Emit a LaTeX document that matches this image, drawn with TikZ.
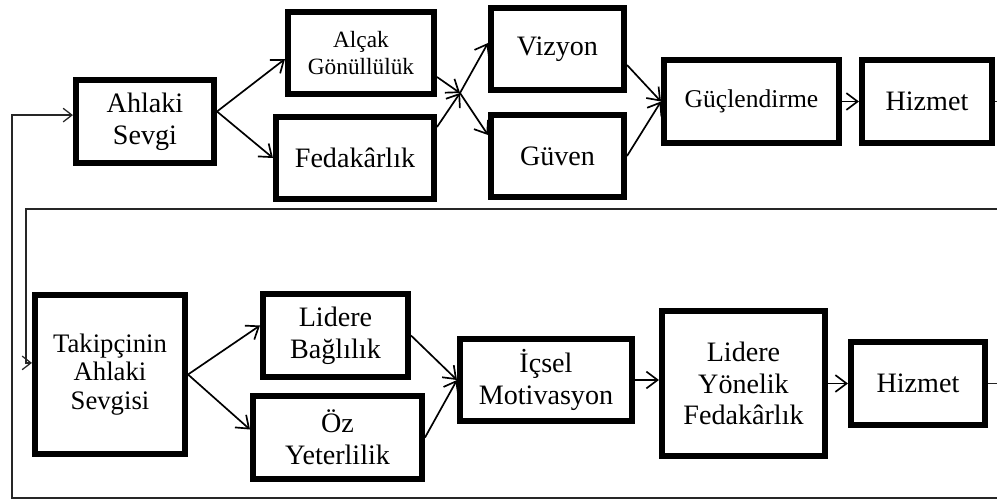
\documentclass[tikz,border=0pt]{standalone}
\usepackage{fontspec}
\setmainfont{Liberation Serif}
\usepackage{tikz}
\usetikzlibrary{shapes.geometric, arrows.meta}
\newcommand{\bigfs}{\fontsize{20}{22.5}\selectfont}
\newcommand{\gucfs}{\fontsize{18.2}{20}\selectfont}
\newcommand{\midfs}{\fontsize{19}{20.5}\selectfont}
\newcommand{\smallfs}{\fontsize{16.6}{19}\selectfont}
\tikzstyle{box} = [rectangle, minimum width=3.3cm, minimum height=2.06cm, text centered, align=center, draw=black, line width=4pt, font=\bigfs]
\tikzstyle{arrow} = [line width=1.2pt,-{Straight Barb[length=2.8mm,width=4.2mm]}]
\tikzstyle{backline} = [line width=0.9pt, draw=black!85]
\tikzstyle{backarrow} = [backline,-{Straight Barb[length=2.2mm,width=3.4mm]}]

\begin{document}
\begin{tikzpicture}[node distance=1cm]
\useasboundingbox (-3.625,-9.4875) rectangle (21.3,3.0375);
\node (ahlaki) [box, minimum width=3.46cm] {Ahlaki\\Sevgi};
\node (alcak) [box, right of=ahlaki, xshift=4.4cm, yshift=1.7125cm, minimum width=3.66cm, font=\smallfs] {Alçak\\Gönüllülük};
\node (fedak) [box, right of=ahlaki, xshift=4.25cm, yshift=-0.9125cm, minimum width=3.96cm] {Fedakârlık};
\node (vizyon) [box, right of=alcak, xshift=3.9125cm, yshift=0.1cm, minimum width=3.335cm] {Vizyon};
\node (guven) [box, below of=vizyon, yshift=-1.675cm, minimum width=3.335cm] {Güven};
\node (gucl) [box, right of=vizyon, xshift=3.85cm, yshift=-1.3125cm, minimum width=4.385cm, font=\gucfs] {Güçlendirme};
\node (hizA) [box, right of=gucl, xshift=3.3875cm, minimum width=3.26cm] {Hizmet};

\node (takip) [box, below of=ahlaki, xshift=-0.875cm, yshift=-5.325cm, minimum width=3.76cm, minimum height=3.985cm, font=\midfs] {Takipçinin\\Ahlaki\\Sevgisi};
\node (bagli) [box, right of=takip, xshift=4.6375cm, yshift=0.975cm, minimum width=3.635cm] {Lidere\\Bağlılık};
\node (oz) [box, below of=bagli, xshift=0.05cm, yshift=-1.55cm, minimum width=4.235cm] {Öz\\Yeterlilik};
\node (icsel) [box, right of=takip, xshift=9.9cm, yshift=-0.1375cm, minimum width=4.31cm] {İçsel\\Motivasyon};
\node (lyf) [box, right of=icsel, xshift=3.9375cm, yshift=-0.0875cm, minimum width=4.085cm, minimum height=3.635cm] {Lidere\\Yönelik\\Fedakârlık};
\node (hizB) [box, right of=lyf, xshift=3.3625cm, minimum width=3.36cm] {Hizmet};

\coordinate (merge) at (7.875,0.7125);
\coordinate (sepR) at (21.3,-2.1875);
\coordinate (sepL) at (-2.975,-2.1875);
\coordinate (botR) at (21.3,-9.4125);
\coordinate (botL) at (-3.325,-9.4125);

\draw [arrow] ([yshift=0.25cm]ahlaki.east) -- ([yshift=-0.15cm]alcak.west);
\draw [arrow] ([yshift=0.25cm]ahlaki.east) -- (fedak.west);
\draw [arrow] ([yshift=-0.6cm]alcak.east) -- (merge);
\draw [arrow] ([yshift=0.775cm]fedak.east) -- (merge);
\draw [arrow] (merge) -- ([yshift=0.15cm]vizyon.west);
\draw [arrow] (merge) -- ([yshift=0.525cm]guven.west);
\draw [arrow] ([yshift=-0.4cm]vizyon.east) -- (gucl.west);
\draw [arrow] (guven.east) -- (gucl.west);
\draw [arrow] (gucl.east) -- (hizA.west);
\draw [backline] (hizA.east) -- (hizA.east -| sepR);

\draw [arrow] (takip.east) -- ([yshift=0.25cm]bagli.west);
\draw [arrow] (takip.east) -- ([yshift=0.2cm]oz.west);
\draw [arrow] (bagli.east) -- (icsel.west);
\draw [arrow] (oz.east) -- (icsel.west);
\draw [arrow] (icsel.east) -- (icsel.east -| lyf.west);
\draw [arrow] (lyf.east) -- (lyf.east -| hizB.west);
\draw [backline] (hizB.east) -- (hizB.east -| sepR);

% feedback lines
\draw [backarrow] (sepR) -- (sepL) |- ([yshift=0.29cm]takip.west);
\draw [backarrow] (botR) -- (botL) |- ([yshift=0.16cm]ahlaki.west);

\end{tikzpicture}
\end{document}
